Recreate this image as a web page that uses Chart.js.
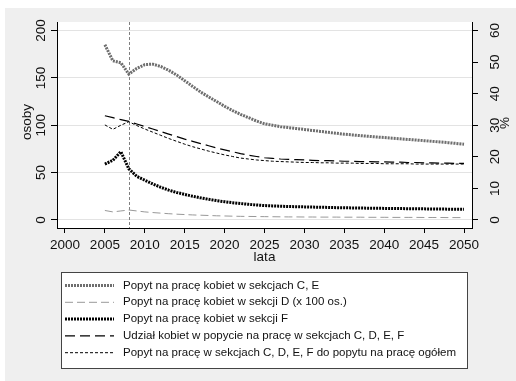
<!DOCTYPE html>
<html>
<head>
<meta charset="utf-8">
<script src="https://cdn.jsdelivr.net/npm/chart.js@4.4.0/dist/chart.umd.min.js"></script>
<style>
  html, body { margin: 0; padding: 0; background: #fff; }
  canvas { display: block; }
</style>
</head>
<body>
<canvas id="chart" width="516" height="381"></canvas>
<script>
var years = [2005, 2006, 2007, 2008, 2009, 2010, 2011, 2012, 2013, 2014,
  2015, 2016, 2017, 2018, 2019, 2020, 2021, 2022, 2023, 2024,
  2025, 2026, 2027, 2028, 2029, 2030, 2031, 2032, 2033, 2034,
  2035, 2036, 2037, 2038, 2039, 2040, 2041, 2042, 2043, 2044,
  2045, 2046, 2047, 2048, 2049, 2050];

// osoby (left axis)
var popytCE = [185, 168, 166, 154, 160, 164, 164.5, 162, 158, 153,
  147, 141, 135, 130, 125, 120, 115.5, 111.5, 108, 104.5,
  101.5, 100, 98.5, 97.5, 96.5, 95.5, 94.5, 93.5, 92.5, 91.5,
  90.5, 89.8, 89, 88.3, 87.6, 87, 86.3, 85.7, 85, 84.4,
  83.7, 83, 82.3, 81.6, 80.8, 80];
var popytD = [10, 8.5, 9.5, 10.5, 9.5, 8.5, 7.8, 7.2, 6.6, 6.1,
  5.7, 5.3, 5, 4.7, 4.4, 4.2, 4, 3.8, 3.7, 3.6,
  3.5, 3.4, 3.3, 3.2, 3.2, 3.1, 3.1, 3, 3, 3,
  2.9, 2.9, 2.9, 2.8, 2.8, 2.8, 2.7, 2.7, 2.7, 2.7,
  2.6, 2.6, 2.6, 2.5, 2.5, 2.5];
var popytF = [59, 63, 72, 54, 46, 42, 38, 34.5, 31.5, 29,
  27, 25, 23.3, 21.8, 20.4, 19.2, 18.2, 17.3, 16.5, 15.8,
  15.2, 14.8, 14.5, 14.2, 14, 13.8, 13.6, 13.4, 13.2, 13,
  12.9, 12.7, 12.6, 12.4, 12.3, 12.2, 12.1, 12, 11.9, 11.8,
  11.7, 11.6, 11.5, 11.4, 11.3, 11.2];

// % (right axis)
var udzialKobiet = [33, 32.4, 31.8, 31.2, 30.4, 29.6, 28.8, 28, 27.2, 26.4,
  25.6, 24.9, 24.2, 23.5, 22.8, 22.2, 21.6, 21, 20.5, 20.1,
  19.7, 19.5, 19.3, 19.2, 19.1, 19, 18.9, 18.8, 18.8, 18.7,
  18.6, 18.6, 18.5, 18.5, 18.4, 18.4, 18.3, 18.3, 18.2, 18.2,
  18.1, 18.1, 18, 18, 17.9, 17.9];
var udzialSekcji = [30.1, 28.7, 30, 31.1, 29.9, 28.8, 27.8, 26.8, 25.8, 24.9,
  24, 23.2, 22.5, 21.8, 21.2, 20.6, 20.1, 19.6, 19.3, 19,
  18.8, 18.6, 18.5, 18.4, 18.3, 18.2, 18.2, 18.1, 18.1, 18,
  18, 18, 17.9, 17.9, 17.9, 17.8, 17.8, 17.8, 17.8, 17.7,
  17.7, 17.7, 17.7, 17.7, 17.7, 17.7];

var seriesLabels = [
  "Popyt na pracę kobiet w sekcjach C, E",
  "Popyt na pracę kobiet w sekcji D (x 100 os.)",
  "Popyt na pracę kobiet w sekcji F",
  "Udział kobiet w popycie na pracę w sekcjach C, D, E, F",
  "Popyt na pracę w sekcjach C, D, E, F do popytu na pracę ogółem"
];

var xTicks = [2000, 2005, 2010, 2015, 2020, 2025, 2030, 2035, 2040, 2045, 2050];
var leftTicks = [0, 50, 100, 150, 200];
var rightTicks = [0, 10, 20, 30, 40, 50, 60];
var markerYear = 2008;

var FONT = "Liberation Sans, Arial, sans-serif";

function points(vals) {
  return vals.map(function (v, i) { return { x: years[i], y: v }; });
}

var stataPlugin = {
  id: "stata",
  beforeDraw: function (chart) {
    var c = chart.ctx, a = chart.chartArea;
    c.save();
    c.fillStyle = "#ffffff";
    c.fillRect(0, 0, chart.width, chart.height);
    c.fillStyle = "#efefef";
    c.fillRect(5, 8, chart.width - 5, chart.height - 8);
    c.fillStyle = "#ffffff";
    c.fillRect(a.left, a.top, a.right - a.left, a.bottom - a.top);
    c.restore();
  },
  beforeDatasetsDraw: function (chart) {
    var c = chart.ctx, a = chart.chartArea;
    var x = Math.round(chart.scales.x.getPixelForValue(markerYear)) + 0.5;
    c.save();
    c.strokeStyle = "#808080";
    c.lineWidth = 1;
    c.setLineDash([3, 2]);
    c.beginPath();
    c.moveTo(x, a.top);
    c.lineTo(x, a.bottom);
    c.stroke();
    c.restore();
  },
  afterDraw: function (chart) {
    var c = chart.ctx, a = chart.chartArea;
    c.save();
    c.fillStyle = "#111";
    c.font = "13.5px " + FONT;
    c.textAlign = "center";
    c.textBaseline = "alphabetic";

    // rotated y tick labels
    leftTicks.forEach(function (v) {
      var y = chart.scales.y.getPixelForValue(v);
      c.save(); c.translate(45, y); c.rotate(-Math.PI / 2);
      c.fillText(String(v), 0, 0); c.restore();
    });
    rightTicks.forEach(function (v) {
      var y = chart.scales.y2.getPixelForValue(v);
      c.save(); c.translate(498.5, y); c.rotate(-Math.PI / 2);
      c.fillText(String(v), 0, 0); c.restore();
    });

    // axis titles
    c.save(); c.translate(31, 122); c.rotate(-Math.PI / 2);
    c.fillText("osoby", 0, 0); c.restore();
    c.save(); c.translate(509, 123); c.rotate(-Math.PI / 2);
    c.fillText("%", 0, 0); c.restore();
    c.fillText("lata", (a.left + a.right) / 2, 261);

    // legend box
    c.fillStyle = "#ffffff";
    c.fillRect(61, 272, 407, 97);
    c.strokeStyle = "#444";
    c.lineWidth = 1;
    c.strokeRect(61.5, 272.5, 406, 96);
    c.font = "11.5px " + FONT;
    c.textAlign = "left";
    c.textBaseline = "middle";
    chart.data.datasets.forEach(function (ds, i) {
      var y = 285.5 + i * 16.8;
      c.save();
      c.strokeStyle = ds.borderColor;
      c.lineWidth = ds.borderWidth;
      c.setLineDash(ds.borderDash || []);
      c.beginPath();
      c.moveTo(65, y);
      c.lineTo(114, y);
      c.stroke();
      c.restore();
      c.fillStyle = "#111";
      c.fillText(ds.label, 123, y);
    });
    c.restore();
  }
};

var ctx = document.getElementById("chart").getContext("2d");
var chart = new Chart(ctx, {
  type: "line",
  data: {
    datasets: [
      { label: seriesLabels[0], data: points(popytCE), yAxisID: "y",
        borderColor: "#6e6e6e", borderWidth: 3, borderDash: [2, 1] },
      { label: seriesLabels[1], data: points(popytD), yAxisID: "y",
        borderColor: "#999999", borderWidth: 1, borderDash: [8, 4] },
      { label: seriesLabels[2], data: points(popytF), yAxisID: "y",
        borderColor: "#000000", borderWidth: 3, borderDash: [2, 1] },
      { label: seriesLabels[3], data: points(udzialKobiet), yAxisID: "y2",
        borderColor: "#000000", borderWidth: 1.2, borderDash: [10, 5] },
      { label: seriesLabels[4], data: points(udzialSekcji), yAxisID: "y2",
        borderColor: "#000000", borderWidth: 1, borderDash: [3, 2] }
    ]
  },
  options: {
    responsive: false,
    animation: false,
    devicePixelRatio: 1,
    layout: { padding: { top: 22, left: 0, right: 0, bottom: 0 } },
    elements: { point: { radius: 0 }, line: { tension: 0 } },
    plugins: { legend: { display: false }, tooltip: { enabled: false } },
    scales: {
      x: {
        type: "linear", position: "bottom", min: 1999, max: 2051,
        afterBuildTicks: function (s) { s.ticks = xTicks.map(function (v) { return { value: v }; }); },
        afterFit: function (s) { s.height = 153; },
        ticks: { font: { family: FONT, size: 13.5 }, color: "#111", padding: 4,
          maxRotation: 0, callback: function (v) { return String(v); } },
        grid: { drawOnChartArea: false, tickLength: 5, tickColor: "#000" },
        border: { color: "#000", width: 1 }
      },
      y: {
        position: "left", min: -8.5, max: 209,
        afterBuildTicks: function (s) { s.ticks = leftTicks.map(function (v) { return { value: v }; }); },
        afterFit: function (s) { s.width = 57; },
        ticks: { display: false },
        grid: { color: "#e3e3e3", lineWidth: 1, tickLength: 6, tickColor: "#000" },
        border: { color: "#000", width: 1 }
      },
      y2: {
        position: "right", min: -2.55, max: 62.7,
        afterBuildTicks: function (s) { s.ticks = rightTicks.map(function (v) { return { value: v }; }); },
        afterFit: function (s) { s.width = 44; },
        ticks: { display: false },
        grid: { drawOnChartArea: false, tickLength: 6, tickColor: "#000" },
        border: { color: "#000", width: 1 }
      }
    }
  },
  plugins: [stataPlugin]
});
</script>
</body>
</html>
